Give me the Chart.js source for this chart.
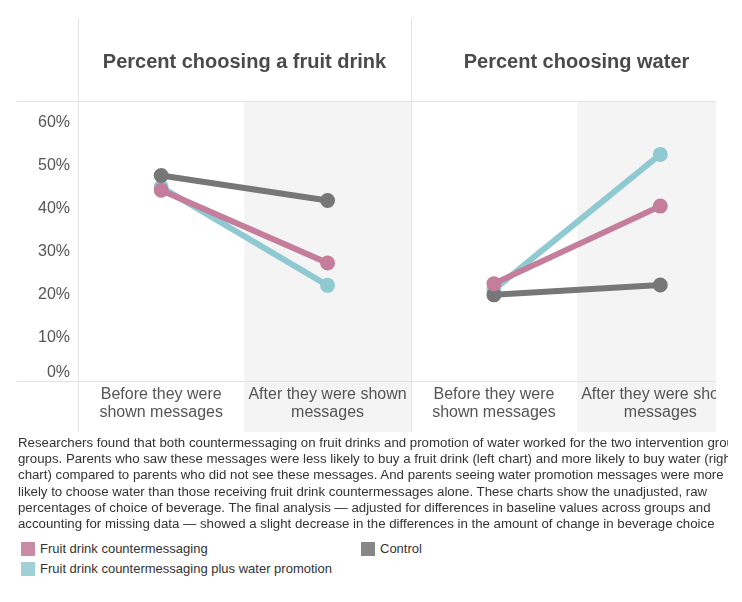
<!DOCTYPE html>
<html>
<head>
<meta charset="utf-8">
<script src="https://cdn.jsdelivr.net/npm/chart.js@4.4.1/dist/chart.umd.min.js"></script>
<style>
  body { margin: 0; background: #fff; font-family: "Liberation Sans", Arial, sans-serif; }
  #wrap { position: absolute; left: 0; top: 0; width: 716px; height: 440px; overflow: hidden; }
  .title { position: absolute; top: 50px; font-size: 20px; font-weight: bold; color: #4a4a4a; text-align: center; white-space: nowrap; }
  #note { position: absolute; left: 18px; top: 435px; width: 710px; overflow: hidden; font-size: 13.25px; line-height: 16.2px; color: #333; white-space: nowrap; }
  .leg { position: absolute; font-size: 13px; color: #333; line-height: 14px; }
  .leg span { display: inline-block; width: 14px; height: 14px; vertical-align: top; margin-right: 5px; }
</style>
</head>
<body>
<div id="wrap">
  <canvas id="chart" width="754" height="440"></canvas>
</div>
<div class="title" style="left:78px;width:333px">Percent choosing a fruit drink</div>
<div class="title" style="left:411px;width:331px">Percent choosing water</div>
<div id="note">
  Researchers found that both countermessaging on fruit drinks and promotion of water worked for the two intervention groups<br>
  groups. Parents who saw these messages were less likely to buy a fruit drink (left chart) and more likely to buy water (right<br>
  chart) compared to parents who did not see these messages. And parents seeing water promotion messages were more<br>
  likely to choose water than those receiving fruit drink countermessages alone. These charts show the unadjusted, raw<br>
  percentages of choice of beverage. The final analysis — adjusted for differences in baseline values across groups and<br>
  accounting for missing data — showed a slight decrease in the differences in the amount of change in beverage choice
</div>
<div class="leg" style="left:21px;top:542px"><span style="background:#c98ba6"></span>Fruit drink countermessaging</div>
<div class="leg" style="left:361px;top:542px"><span style="background:#878787"></span>Control</div>
<div class="leg" style="left:21px;top:562px"><span style="background:#9fd0d7"></span>Fruit drink countermessaging plus water promotion</div>
<script>
// categories, one pair per panel
const stages = [["Before they were", "shown messages"], ["After they were shown", "messages"]];
const yTicks = [0, 10, 20, 30, 40, 50, 60];

// percent choosing a fruit drink (before, after)
const counterFruit = [44.3, 27.4];
const controlFruit = [47.7, 41.9];
const plusWaterFruit = [45.0, 22.2];

// percent choosing water (before, after)
const counterWater = [22.6, 40.6];
const controlWater = [20.0, 22.3];
const plusWaterWater = [21.2, 52.6];

const pink = "#c47e9c";
const gray = "#777777";
const teal = "#8fc9d1";

function series(color, fruit, water, order) {
    const base = {
        borderColor: color, backgroundColor: color, borderWidth: 6,
        pointRadius: 4.5, pointHoverRadius: 4.5, borderCapStyle: "round", order: order
    };
    return [
        Object.assign({}, base, { data: [fruit[0], fruit[1], null, null] }),
        Object.assign({}, base, { data: [null, null, water[0], water[1]] })
    ];
}

const panelDeco = {
    id: "panelDeco",
    beforeDraw(chart) {
        const c = chart.ctx, x = chart.scales.x, a = chart.chartArea;
        const band = x.getPixelForValue(1) - x.getPixelForValue(0);
        c.save();
        c.fillStyle = "#f4f4f4";
        [1, 3].forEach(i => {
            c.fillRect(x.getPixelForValue(i) - band / 2, a.top, band, 432 - a.top);
        });
        c.strokeStyle = "#e3e3e3";
        c.lineWidth = 1;
        c.beginPath();
        [a.left, x.getPixelForValue(1) + band / 2].forEach(px => {
            c.moveTo(Math.round(px) + 0.5, 18);
            c.lineTo(Math.round(px) + 0.5, 432);
        });
        [a.top, a.bottom].forEach(py => {
            c.moveTo(17, Math.round(py) + 0.5);
            c.lineTo(chart.width, Math.round(py) + 0.5);
        });
        c.stroke();
        c.restore();
    }
};

new Chart(document.getElementById("chart"), {
    type: "line",
    data: {
        labels: stages.concat(stages),
        datasets: [].concat(
            series(pink, counterFruit, counterWater, 0),
            series(gray, controlFruit, controlWater, 1),
            series(teal, plusWaterFruit, plusWaterWater, 2)
        )
    },
    options: {
        responsive: false,
        devicePixelRatio: 1,
        animation: false,
        spanGaps: false,
        layout: { padding: { top: 101, right: 0, bottom: 0, left: 0 } },
        plugins: { legend: { display: false }, tooltip: { enabled: false } },
        scales: {
            x: {
                offset: true,
                grid: { display: false, drawTicks: false, tickLength: 0 },
                border: { display: false },
                ticks: {
                    color: "#555", padding: 5, maxRotation: 0, autoSkip: false,
                    font: { family: "'Liberation Sans', Arial, sans-serif", size: 16, lineHeight: 1.1 }
                },
                afterFit(s) { s.height = 59; }
            },
            y: {
                min: 0, max: 65,
                grid: { display: false, drawTicks: false, tickLength: 0 },
                border: { display: false },
                afterBuildTicks(s) { s.ticks = yTicks.map(v => ({ value: v })); },
                ticks: {
                    color: "#555", padding: 8,
                    font: { family: "'Liberation Sans', Arial, sans-serif", size: 16, lineHeight: 1 },
                    // 0% sits a little above the bottom rule, like the original
                    callback: v => v === 0 ? ["0%", ""] : v + "%"
                },
                afterFit(s) { s.width = 78; }
            }
        }
    },
    plugins: [panelDeco]
});
</script>
</body>
</html>
